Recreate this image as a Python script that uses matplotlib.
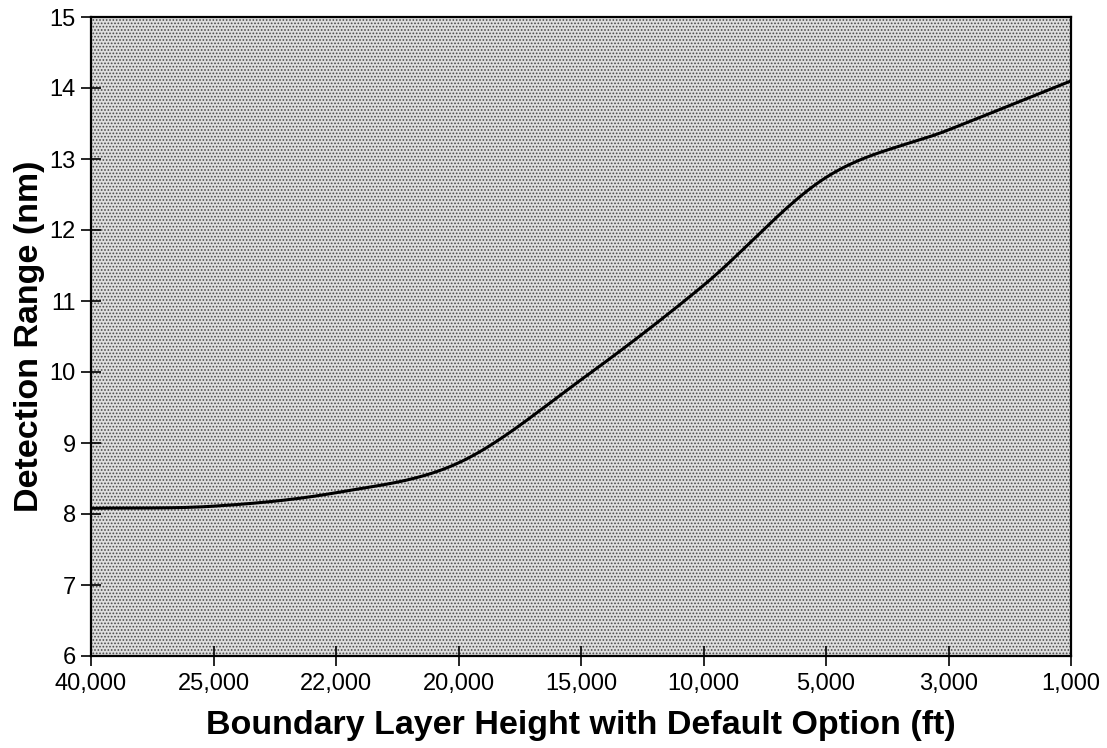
import numpy as np
import matplotlib
matplotlib.use("Agg")
import matplotlib.pyplot as plt
from matplotlib.patches import Rectangle

categories = ["40,000", "25,000", "22,000", "20,000", "15,000", "10,000", "5,000", "3,000", "1,000"]
detection_range = [8.08, 8.11, 8.30, 8.72, 9.89, 11.22, 12.74, 13.41, 14.10]
y_ticks = [6, 7, 8, 9, 10, 11, 12, 13, 14, 15]

plt.rcParams['font.family'] = ['Liberation Sans', 'DejaVu Sans']
plt.rcParams['hatch.linewidth'] = 0.8

def smooth(xs, ys, n=40):
    # Catmull-Rom spline through the data points (Excel-like smoothed line)
    xs = np.asarray(xs, float); ys = np.asarray(ys, float)
    px = np.concatenate([[2*xs[0]-xs[1]], xs, [2*xs[-1]-xs[-2]]])
    py = np.concatenate([[2*ys[0]-ys[1]], ys, [2*ys[-1]-ys[-2]]])
    ox, oy = [], []
    for i in range(1, len(px)-2):
        t = np.linspace(0, 1, n, endpoint=(i == len(px)-3))
        for p, o in ((px, ox), (py, oy)):
            p0, p1, p2, p3 = p[i-1], p[i], p[i+1], p[i+2]
            o.extend(0.5*((2*p1) + (-p0+p2)*t + (2*p0-5*p1+4*p2-p3)*t**2 + (-p0+3*p1-3*p2+p3)*t**3))
    return np.array(ox), np.array(oy)

fig = plt.figure(figsize=(11.07, 7.48), dpi=100)
ax = fig.add_axes([91/1107, 1-656/748, (1071-91)/1107, (656-17)/748])

ax.set_facecolor('#dedede')
ax.add_patch(Rectangle((0, 0), 1, 1, transform=ax.transAxes, facecolor='#dedede',
                       edgecolor='#4a4a4a', hatch='.....', linewidth=0, zorder=0))

x = np.arange(len(categories))
sx, sy = smooth(x, detection_range)
ax.plot(sx, sy, color='black', lw=2.2, zorder=3)

ax.set_xlim(0, len(categories)-1)
ax.set_ylim(6, 15)
ax.set_xticks(x)
ax.set_xticklabels(categories)
ax.set_yticks(y_ticks)
ax.tick_params(axis='both', direction='inout', length=14, width=1.2, labelsize=17, colors='black')
ax.tick_params(axis='x', pad=5)
ax.tick_params(axis='y', pad=4)

for s in ax.spines.values():
    s.set_linewidth(1.6)
    s.set_color('black')

ax.set_xlabel("Boundary Layer Height with Default Option (ft)", fontsize=24.5, fontweight='bold', labelpad=11)
ax.set_ylabel("Detection Range (nm)", fontsize=24.5, fontweight='bold', labelpad=3)

fig.savefig("out.png", dpi=100)
